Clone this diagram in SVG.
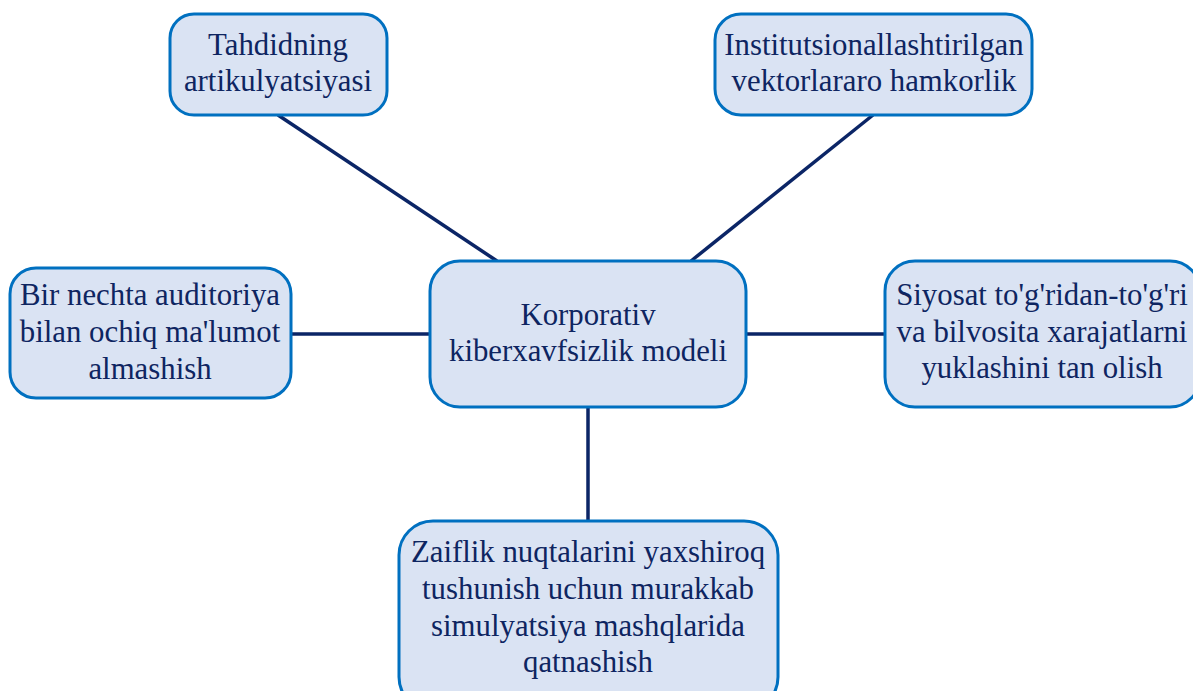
<svg xmlns="http://www.w3.org/2000/svg" width="1193" height="691" viewBox="0 0 1193 691">
  <style>
    .box { fill: #DAE3F3; stroke: #0070C0; stroke-width: 3; }
    .lbl { font-family: 'Liberation Serif', 'Times New Roman', serif; font-size: 30.8px; fill: #0E2561; text-anchor: middle; }
    .link { stroke: #0B2566; stroke-width: 3.5; fill: none; }
  </style>
  <rect width="1193" height="691" fill="#FFFFFF"/>

  <!-- connectors -->
  <g id="connectors">
    <line class="link" x1="278" y1="115" x2="497" y2="261"/>
    <line class="link" x1="873" y1="115" x2="691" y2="261"/>
    <line class="link" x1="291" y1="334" x2="430" y2="334"/>
    <line class="link" x1="746" y1="334" x2="885" y2="334"/>
    <line class="link" x1="588" y1="407" x2="588" y2="521"/>
  </g>

  <g id="center">
    <rect class="box" x="430" y="261" width="316" height="146" rx="30"/>
    <text class="lbl" x="588" y="325">Korporativ</text>
    <text class="lbl" x="588" y="361">kiberxavfsizlik modeli</text>
  </g>

  <g id="top-left">
    <rect class="box" x="170" y="14" width="217" height="101" rx="24"/>
    <text class="lbl" x="278" y="55">Tahdidning</text>
    <text class="lbl" x="278" y="91">artikulyatsiyasi</text>
  </g>

  <g id="top-right">
    <rect class="box" x="715" y="14" width="317" height="101" rx="26"/>
    <text class="lbl" x="874" y="55">Institutsionallashtirilgan</text>
    <text class="lbl" x="874" y="91">vektorlararo hamkorlik</text>
  </g>

  <g id="left">
    <rect class="box" x="10" y="268" width="281" height="130" rx="26"/>
    <text class="lbl" x="150" y="305">Bir nechta auditoriya</text>
    <text class="lbl" x="150" y="342">bilan ochiq ma'lumot</text>
    <text class="lbl" x="150" y="379">almashish</text>
  </g>

  <g id="right">
    <rect class="box" x="885" y="261" width="315" height="146" rx="30"/>
    <text class="lbl" x="1042" y="305">Siyosat to'g'ridan-to'g'ri</text>
    <text class="lbl" x="1042" y="342">va bilvosita xarajatlarni</text>
    <text class="lbl" x="1042" y="378">yuklashini tan olish</text>
  </g>

  <g id="bottom">
    <rect class="box" x="399" y="521" width="379" height="190" rx="34"/>
    <text class="lbl" x="588" y="562">Zaiflik nuqtalarini yaxshiroq</text>
    <text class="lbl" x="588" y="599">tushunish uchun murakkab</text>
    <text class="lbl" x="588" y="636">simulyatsiya mashqlarida</text>
    <text class="lbl" x="588" y="672">qatnashish</text>
  </g>
</svg>
